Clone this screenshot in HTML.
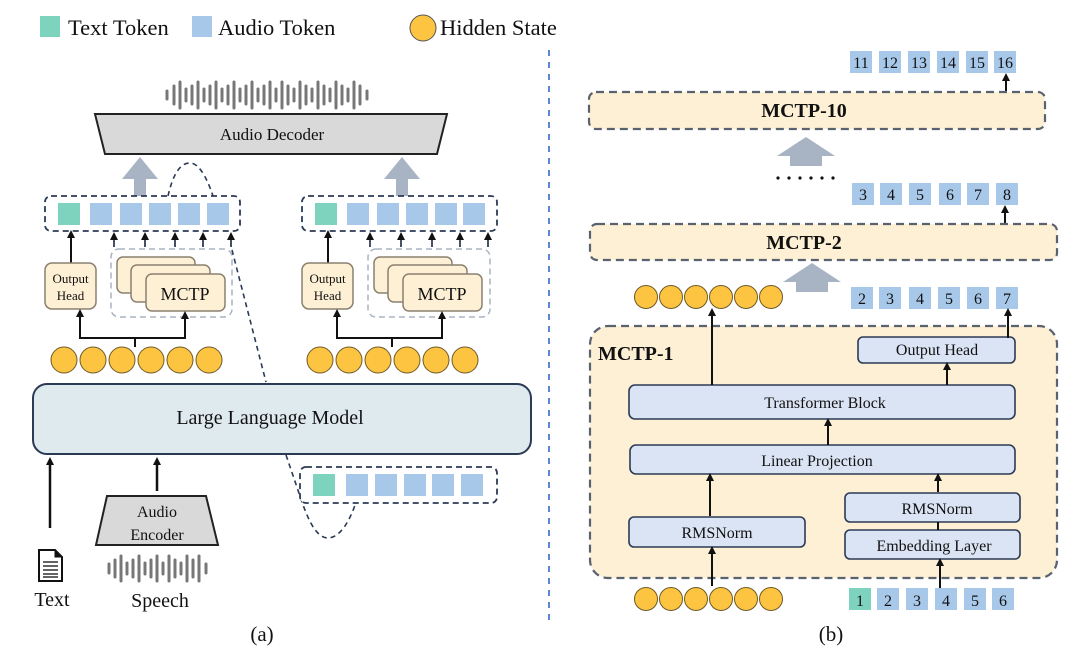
<!DOCTYPE html>
<html><head><meta charset="utf-8"><style>html,body{margin:0;padding:0;background:#fff}svg{display:block}text{font-family:"Liberation Serif",serif;fill:#111}</style></head><body>
<svg width="1080" height="657" viewBox="0 0 1080 657" xmlns="http://www.w3.org/2000/svg">
<defs>
<marker id="ah" markerWidth="8" markerHeight="8" refX="4" refY="4" orient="auto" markerUnits="userSpaceOnUse"><path d="M0,0 L8,4 L0,8 z" fill="#111"/></marker>
</defs>
<!-- legend -->
<rect x="40" y="16" width="20" height="21" fill="#7dd3bd"/>
<text x="68" y="35" font-size="22.5">Text Token</text>
<rect x="192" y="16" width="20" height="21" fill="#a8c8ea"/>
<text x="218" y="35" font-size="22.5">Audio Token</text>
<circle cx="423" cy="28" r="13" fill="#fcc440" stroke="#555" stroke-width="1"/>
<text x="440" y="35" font-size="22.5">Hidden State</text>
<!-- divider -->
<line x1="549" y1="50" x2="549" y2="620" stroke="#5b86d6" stroke-width="2" stroke-dasharray="6,6"/>

<!-- ===== left panel ===== -->
<g stroke="#777" stroke-width="3" stroke-linecap="round">
<line x1="167" y1="91" x2="167" y2="99"/><line x1="174" y1="86" x2="174" y2="104"/><line x1="180" y1="82" x2="180" y2="108"/><line x1="186" y1="89" x2="186" y2="101"/><line x1="192" y1="86" x2="192" y2="104"/><line x1="198" y1="82" x2="198" y2="108"/><line x1="204" y1="89" x2="204" y2="101"/><line x1="210" y1="86" x2="210" y2="104"/><line x1="216" y1="82" x2="216" y2="108"/><line x1="222" y1="89" x2="222" y2="101"/><line x1="228" y1="86" x2="228" y2="104"/><line x1="234" y1="82" x2="234" y2="108"/><line x1="240" y1="89" x2="240" y2="101"/><line x1="246" y1="86" x2="246" y2="104"/><line x1="252" y1="82" x2="252" y2="108"/><line x1="258" y1="89" x2="258" y2="101"/><line x1="264" y1="86" x2="264" y2="104"/><line x1="270" y1="82" x2="270" y2="108"/><line x1="276" y1="89" x2="276" y2="101"/><line x1="282" y1="82" x2="282" y2="108"/><line x1="288" y1="86" x2="288" y2="104"/><line x1="294" y1="89" x2="294" y2="101"/><line x1="300" y1="82" x2="300" y2="108"/><line x1="306" y1="86" x2="306" y2="104"/><line x1="312" y1="89" x2="312" y2="101"/><line x1="318" y1="82" x2="318" y2="108"/><line x1="324" y1="86" x2="324" y2="104"/><line x1="330" y1="89" x2="330" y2="101"/><line x1="336" y1="82" x2="336" y2="108"/><line x1="342" y1="86" x2="342" y2="104"/><line x1="348" y1="89" x2="348" y2="101"/><line x1="354" y1="82" x2="354" y2="108"/><line x1="360" y1="86" x2="360" y2="104"/><line x1="367" y1="91" x2="367" y2="99"/>
</g>
<polygon points="95,114 447,114 437,154 105,154" fill="#d9d9d9" stroke="#222" stroke-width="2"/>
<text x="272" y="140" font-size="17" text-anchor="middle">Audio Decoder</text>
<g fill="#a8b3c4">
<polygon points="140,157 158,179 146,179 146,197 134,197 134,179 122,179"/>
<polygon points="402,157 420,179 408,179 408,197 396,197 396,179 384,179"/>
</g>
<path d="M168,196 C174,170 182,163 190,163 C198,163 206,175 213,196" fill="none" stroke="#2b3a55" stroke-width="1.6" stroke-dasharray="5,4"/>
<rect x="45" y="196" width="195" height="35" rx="6" fill="#fff" stroke="#2b3a55" stroke-width="1.8" stroke-dasharray="6,4"/>
<rect x="58" y="203" width="22" height="22" fill="#7dd3bd"/>
<g fill="#a8c8ea"><rect x="90" y="203" width="22" height="22"/><rect x="120" y="203" width="22" height="22"/><rect x="149" y="203" width="22" height="22"/><rect x="178" y="203" width="22" height="22"/><rect x="207" y="203" width="22" height="22"/></g>
<rect x="302" y="196" width="195" height="35" rx="6" fill="#fff" stroke="#2b3a55" stroke-width="1.8" stroke-dasharray="6,4"/>
<rect x="315" y="203" width="22" height="22" fill="#7dd3bd"/>
<g fill="#a8c8ea"><rect x="347" y="203" width="22" height="22"/><rect x="377" y="203" width="22" height="22"/><rect x="406" y="203" width="22" height="22"/><rect x="435" y="203" width="22" height="22"/><rect x="463" y="203" width="22" height="22"/></g>
<g stroke="#1a2540" stroke-width="1.6" marker-end="url(#ah)">
<line x1="114" y1="247" x2="114" y2="236"/><line x1="145" y1="247" x2="145" y2="236"/><line x1="175" y1="247" x2="175" y2="236"/><line x1="203" y1="247" x2="203" y2="236"/><line x1="231" y1="247" x2="231" y2="236"/>
<line x1="370" y1="247" x2="370" y2="236"/><line x1="401" y1="247" x2="401" y2="236"/><line x1="432" y1="247" x2="432" y2="236"/><line x1="460" y1="247" x2="460" y2="236"/><line x1="488" y1="247" x2="488" y2="236"/>
</g>
<g stroke="#111" stroke-width="2" marker-end="url(#ah)">
<line x1="71" y1="263" x2="71" y2="234"/><line x1="328" y1="263" x2="328" y2="234"/>
</g>
<rect x="45" y="263" width="51" height="46" rx="7" fill="#fdf0d5" stroke="#8a8070" stroke-width="1.5"/>
<text x="70.5" y="283" font-size="13" text-anchor="middle">Output</text><text x="70.5" y="300" font-size="13" text-anchor="middle">Head</text>
<rect x="111" y="249" width="121" height="68" rx="8" fill="none" stroke="#a8b3c4" stroke-width="1.5" stroke-dasharray="6,4"/>
<rect x="117" y="257" width="78" height="36" rx="6" fill="#fdf0d5" stroke="#8a8070" stroke-width="1.5"/>
<rect x="131" y="265" width="79" height="37" rx="6" fill="#fdf0d5" stroke="#8a8070" stroke-width="1.5"/>
<rect x="146" y="274" width="79" height="37" rx="6" fill="#fdf0d5" stroke="#8a8070" stroke-width="1.5"/>
<text x="185" y="300" font-size="18" text-anchor="middle">MCTP</text>
<rect x="302" y="263" width="51" height="46" rx="7" fill="#fdf0d5" stroke="#8a8070" stroke-width="1.5"/>
<text x="327.5" y="283" font-size="13" text-anchor="middle">Output</text><text x="327.5" y="300" font-size="13" text-anchor="middle">Head</text>
<rect x="368" y="249" width="122" height="68" rx="8" fill="none" stroke="#a8b3c4" stroke-width="1.5" stroke-dasharray="6,4"/>
<rect x="374" y="257" width="78" height="36" rx="6" fill="#fdf0d5" stroke="#8a8070" stroke-width="1.5"/>
<rect x="388" y="265" width="79" height="37" rx="6" fill="#fdf0d5" stroke="#8a8070" stroke-width="1.5"/>
<rect x="403" y="274" width="79" height="37" rx="6" fill="#fdf0d5" stroke="#8a8070" stroke-width="1.5"/>
<text x="442" y="300" font-size="18" text-anchor="middle">MCTP</text>
<g fill="none" stroke="#111" stroke-width="2">
<path d="M135,347 V338 M80,338 H185" /><path d="M392,347 V338 M337,338 H442"/>
</g>
<g stroke="#111" stroke-width="2" marker-end="url(#ah)">
<line x1="80" y1="339" x2="80" y2="313"/><line x1="185" y1="339" x2="185" y2="315"/>
<line x1="337" y1="339" x2="337" y2="313"/><line x1="442" y1="339" x2="442" y2="315"/>
</g>
<g fill="#fcc440" stroke="#6e5a2a" stroke-width="1">
<circle cx="64" cy="360" r="13"/><circle cx="93" cy="360" r="13"/><circle cx="122" cy="360" r="13"/><circle cx="151" cy="360" r="13"/><circle cx="180" cy="360" r="13"/><circle cx="209" cy="360" r="13"/>
<circle cx="320" cy="360" r="13"/><circle cx="349" cy="360" r="13"/><circle cx="378" cy="360" r="13"/><circle cx="407" cy="360" r="13"/><circle cx="436" cy="360" r="13"/><circle cx="465" cy="360" r="13"/>
</g>
<path d="M232,250 L266,382" fill="none" stroke="#2b3a55" stroke-width="1.6" stroke-dasharray="5,4"/>
<rect x="33" y="384" width="498" height="70" rx="14" fill="#dfeaef" stroke="#2b3a55" stroke-width="2"/>
<text x="270" y="424" font-size="20" text-anchor="middle">Large Language Model</text>
<path d="M286,455 L302,502 C310,525 318,538 328,538 C340,538 350,520 355,505" fill="none" stroke="#2b3a55" stroke-width="1.6" stroke-dasharray="5,4"/>
<rect x="300" y="467" width="197" height="36" rx="6" fill="#fff" stroke="#2b3a55" stroke-width="1.8" stroke-dasharray="6,4"/>
<rect x="313" y="474" width="22" height="22" fill="#7dd3bd"/>
<g fill="#a8c8ea"><rect x="346" y="474" width="22" height="22"/><rect x="375" y="474" width="22" height="22"/><rect x="404" y="474" width="22" height="22"/><rect x="432" y="474" width="22" height="22"/><rect x="461" y="474" width="22" height="22"/></g>
<g stroke="#111" stroke-width="2.5" marker-end="url(#ah)">
<line x1="50" y1="528" x2="50" y2="461"/><line x1="157" y1="491" x2="157" y2="461"/>
</g>
<polygon points="107,496 206,496 218,545 96,545" fill="#d9d9d9" stroke="#222" stroke-width="2"/>
<text x="157" y="517" font-size="16" text-anchor="middle">Audio</text>
<text x="157" y="540" font-size="16" text-anchor="middle">Encoder</text>
<path d="M39,550 H55 L62,557 V581 H39 Z" fill="#fff" stroke="#111" stroke-width="2"/>
<path d="M55,550 V557 H62" fill="#111" stroke="#111" stroke-width="1"/>
<g stroke="#111" stroke-width="1.3"><line x1="43" y1="562" x2="58" y2="562"/><line x1="43" y1="566" x2="58" y2="566"/><line x1="43" y1="570" x2="58" y2="570"/><line x1="43" y1="574" x2="58" y2="574"/><line x1="43" y1="577" x2="58" y2="577"/></g>
<text x="52" y="606" font-size="20" text-anchor="middle">Text</text>
<g stroke="#777" stroke-width="3" stroke-linecap="round">
<line x1="109" y1="564" x2="109" y2="573"/><line x1="115" y1="560" x2="115" y2="577"/><line x1="121" y1="556" x2="121" y2="581"/><line x1="127" y1="563" x2="127" y2="574"/><line x1="133" y1="560" x2="133" y2="577"/><line x1="139" y1="556" x2="139" y2="581"/><line x1="145" y1="563" x2="145" y2="574"/><line x1="151" y1="560" x2="151" y2="577"/><line x1="157" y1="556" x2="157" y2="581"/><line x1="163" y1="563" x2="163" y2="574"/><line x1="169" y1="556" x2="169" y2="581"/><line x1="175" y1="560" x2="175" y2="577"/><line x1="181" y1="563" x2="181" y2="574"/><line x1="187" y1="556" x2="187" y2="581"/><line x1="193" y1="560" x2="193" y2="577"/><line x1="199" y1="556" x2="199" y2="581"/><line x1="206" y1="564" x2="206" y2="573"/>
</g>
<text x="160" y="607" font-size="20" text-anchor="middle">Speech</text>
<text x="262" y="641" font-size="21" text-anchor="middle">(a)</text>

<!-- ===== right panel ===== -->
<g font-size="16" text-anchor="middle">
<g fill="#a8c8ea"><rect x="850" y="51" width="22" height="22"/><rect x="879" y="51" width="22" height="22"/><rect x="908" y="51" width="22" height="22"/><rect x="937" y="51" width="22" height="22"/><rect x="966" y="51" width="22" height="22"/><rect x="994" y="51" width="22" height="22"/></g>
<text x="861" y="68">11</text><text x="890" y="68">12</text><text x="919" y="68">13</text><text x="948" y="68">14</text><text x="977" y="68">15</text><text x="1005" y="68">16</text>
</g>
<line x1="1006" y1="92" x2="1006" y2="77" stroke="#111" stroke-width="2" marker-end="url(#ah)"/>
<rect x="589" y="92" width="456" height="37" rx="7" fill="#fdf0d5" stroke="#5a6270" stroke-width="2.2" stroke-dasharray="8,5"/>
<text x="804" y="117" font-size="20" font-weight="bold" text-anchor="middle">MCTP-10</text>
<polygon points="806,137 835,156 822,156 822,166 790,166 790,156 777,156" fill="#a8b3c4"/>
<g fill="#111"><circle cx="778" cy="178" r="1.6"/><circle cx="789" cy="178" r="1.6"/><circle cx="800" cy="178" r="1.6"/><circle cx="811" cy="178" r="1.6"/><circle cx="822" cy="178" r="1.6"/><circle cx="833" cy="178" r="1.6"/></g>
<g font-size="16" text-anchor="middle">
<g fill="#a8c8ea"><rect x="852" y="183" width="22" height="22"/><rect x="880" y="183" width="22" height="22"/><rect x="909" y="183" width="22" height="22"/><rect x="939" y="183" width="22" height="22"/><rect x="967" y="183" width="22" height="22"/><rect x="996" y="183" width="22" height="22"/></g>
<text x="863" y="200">3</text><text x="891" y="200">4</text><text x="920" y="200">5</text><text x="950" y="200">6</text><text x="978" y="200">7</text><text x="1007" y="200">8</text>
</g>
<line x1="1005" y1="223" x2="1005" y2="209" stroke="#111" stroke-width="2" marker-end="url(#ah)"/>
<rect x="590" y="224" width="467" height="36" rx="7" fill="#fdf0d5" stroke="#5a6270" stroke-width="2.2" stroke-dasharray="8,5"/>
<text x="804" y="249" font-size="20" font-weight="bold" text-anchor="middle">MCTP-2</text>
<polygon points="812,263 841,282 828,282 828,292 796,292 796,282 783,282" fill="#a8b3c4"/>
<g fill="#fcc440" stroke="#6e5a2a" stroke-width="1">
<circle cx="646" cy="297" r="11.5"/><circle cx="671" cy="297" r="11.5"/><circle cx="696" cy="297" r="11.5"/><circle cx="721" cy="297" r="11.5"/><circle cx="746" cy="297" r="11.5"/><circle cx="771" cy="297" r="11.5"/>
</g>
<g font-size="16" text-anchor="middle">
<g fill="#a8c8ea"><rect x="851" y="287" width="22" height="22"/><rect x="879" y="287" width="22" height="22"/><rect x="909" y="287" width="22" height="22"/><rect x="938" y="287" width="22" height="22"/><rect x="967" y="287" width="22" height="22"/><rect x="996" y="287" width="22" height="22"/></g>
<text x="862" y="304">2</text><text x="890" y="304">3</text><text x="920" y="304">4</text><text x="949" y="304">5</text><text x="978" y="304">6</text><text x="1007" y="304">7</text>
</g>
<rect x="590" y="326" width="467" height="252" rx="18" fill="#fdf0d5" stroke="#5a6270" stroke-width="2.2" stroke-dasharray="8,5"/>
<text x="598" y="360" font-size="20" font-weight="bold">MCTP-1</text>
<g fill="#dbe4f4" stroke="#2b3a55" stroke-width="1.6">
<rect x="858" y="337" width="157" height="26" rx="5"/>
<rect x="629" y="385" width="386" height="34" rx="6"/>
<rect x="630" y="445" width="385" height="29" rx="6"/>
<rect x="629" y="517" width="176" height="30" rx="5"/>
<rect x="845" y="493" width="175" height="29" rx="5"/>
<rect x="845" y="530" width="175" height="29" rx="5"/>
</g>
<g font-size="16" text-anchor="middle">
<text x="937" y="355">Output Head</text>
<text x="825" y="408">Transformer Block</text>
<text x="817" y="466">Linear Projection</text>
<text x="717" y="538">RMSNorm</text>
<text x="937" y="514">RMSNorm</text>
<text x="934" y="551">Embedding Layer</text>
</g>
<g stroke="#111" stroke-width="2" marker-end="url(#ah)">
<line x1="712" y1="385" x2="712" y2="312"/>
<line x1="1008" y1="338" x2="1008" y2="312"/>
<line x1="947" y1="385" x2="947" y2="366"/>
<line x1="828" y1="445" x2="828" y2="422"/>
<line x1="710" y1="516" x2="710" y2="477"/>
<line x1="938" y1="492" x2="938" y2="477"/>
<line x1="712" y1="586" x2="712" y2="550"/>
<line x1="940" y1="588" x2="940" y2="562"/>
</g>
<line x1="938" y1="522" x2="938" y2="530" stroke="#111" stroke-width="2"/>
<g fill="#fcc440" stroke="#6e5a2a" stroke-width="1">
<circle cx="646" cy="599" r="11.5"/><circle cx="671" cy="599" r="11.5"/><circle cx="696" cy="599" r="11.5"/><circle cx="721" cy="599" r="11.5"/><circle cx="746" cy="599" r="11.5"/><circle cx="771" cy="599" r="11.5"/>
</g>
<g font-size="16" text-anchor="middle">
<rect x="849" y="588" width="22" height="22" fill="#7dd3bd"/>
<g fill="#a8c8ea"><rect x="877" y="588" width="22" height="22"/><rect x="906" y="588" width="22" height="22"/><rect x="935" y="588" width="22" height="22"/><rect x="964" y="588" width="22" height="22"/><rect x="992" y="588" width="22" height="22"/></g>
<text x="860" y="606">1</text><text x="888" y="606">2</text><text x="917" y="606">3</text><text x="946" y="606">4</text><text x="975" y="606">5</text><text x="1003" y="606">6</text>
</g>
<text x="831" y="641" font-size="21" text-anchor="middle">(b)</text>
</svg>
</body></html>
